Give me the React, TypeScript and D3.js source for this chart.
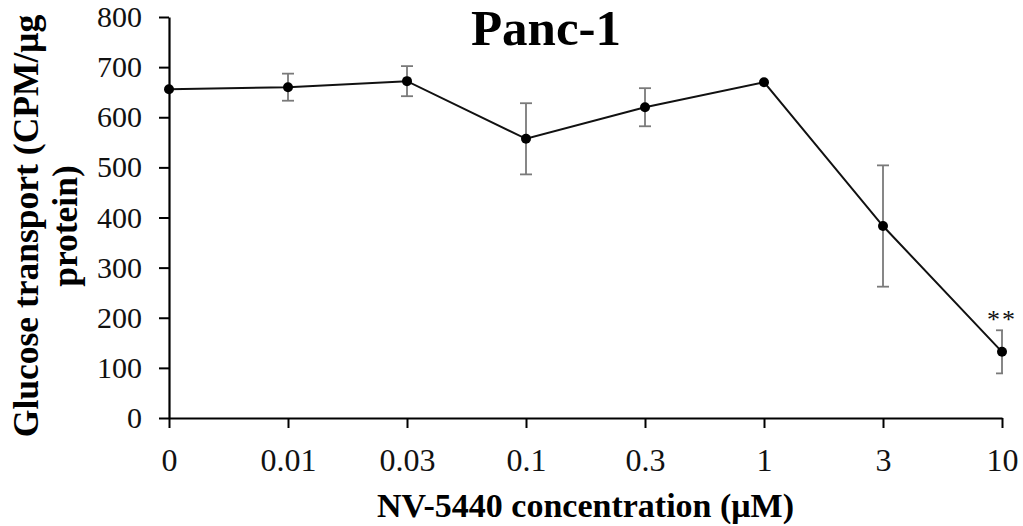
import React from 'react';
import * as d3 from 'd3';

const concentrations = ['0', '0.01', '0.03', '0.1', '0.3', '1', '3', '10'];
const transport = [656, 660, 672, 557, 620, 670, 383, 132];
const errors = [0, 27, 30, 71, 38, 0, 121, 43];
const yTicks = [0, 100, 200, 300, 400, 500, 600, 700, 800];
const marks = ['', '', '', '', '', '', '', '**'];

const useD3 = (renderChart: any, dependencies: any[]) => {
  const ref = React.useRef<SVGSVGElement>(null);
  React.useEffect(() => {
    renderChart(d3.select(ref.current));
  }, dependencies);
  return ref;
};

const font = '"Liberation Serif", "Times New Roman", serif';

const renderChart = (svg: any) => {
  svg.selectAll('*').remove();
  const left = 169;
  const right = 1002;
  const top = 17;
  const bottom = 418;

  const x = d3.scalePoint().domain(concentrations).range([left, right]);
  const y = d3.scaleLinear().domain([0, 800]).range([bottom, top]);

  const rows = concentrations.map((c, i) => ({ c, v: transport[i], e: errors[i], m: marks[i] }));

  svg.append('defs').append('clipPath').attr('id', 'plot-clip')
    .append('rect')
    .attr('x', left - 20).attr('y', 0)
    .attr('width', right - left + 21).attr('height', bottom + 10);

  // y axis
  const yAxis = svg.append('g')
    .attr('transform', `translate(${left},0)`)
    .call(d3.axisLeft(y).tickValues(yTicks).tickSize(10).tickPadding(17).tickSizeOuter(0));
  yAxis.select('.domain').attr('stroke', '#000').attr('stroke-width', 2.2);
  yAxis.selectAll('.tick line').attr('stroke', '#000').attr('stroke-width', 2);
  yAxis.selectAll('.tick text')
    .attr('font-family', font).attr('font-size', 30).attr('fill', '#111');

  // x axis
  const xAxis = svg.append('g')
    .attr('transform', `translate(0,${bottom})`)
    .call(d3.axisBottom(x).tickSize(10).tickPadding(20).tickSizeOuter(0));
  xAxis.select('.domain').attr('stroke', '#000').attr('stroke-width', 2.2);
  xAxis.selectAll('.tick line').attr('stroke', '#000').attr('stroke-width', 2);
  xAxis.selectAll('.tick text')
    .attr('font-family', font).attr('font-size', 32).attr('fill', '#111');

  const plot = svg.append('g').attr('clip-path', 'url(#plot-clip)');

  // error bars
  const eb = plot.selectAll('.err')
    .data(rows.filter(d => d.e > 0))
    .join('g')
    .attr('stroke', '#7a7a7a')
    .attr('stroke-width', 1.8);
  eb.append('line')
    .attr('x1', (d: any) => x(d.c)).attr('x2', (d: any) => x(d.c))
    .attr('y1', (d: any) => y(d.v + d.e)).attr('y2', (d: any) => y(d.v - d.e));
  eb.append('line')
    .attr('x1', (d: any) => x(d.c)! - 6).attr('x2', (d: any) => x(d.c)! + 6)
    .attr('y1', (d: any) => y(d.v + d.e)).attr('y2', (d: any) => y(d.v + d.e));
  eb.append('line')
    .attr('x1', (d: any) => x(d.c)! - 6).attr('x2', (d: any) => x(d.c)! + 6)
    .attr('y1', (d: any) => y(d.v - d.e)).attr('y2', (d: any) => y(d.v - d.e));

  // line + points
  const line = d3.line<any>().x(d => x(d.c)!).y(d => y(d.v));
  svg.append('path')
    .datum(rows)
    .attr('d', line)
    .attr('fill', 'none')
    .attr('stroke', '#111')
    .attr('stroke-width', 2);

  svg.selectAll('.pt')
    .data(rows)
    .join('circle')
    .attr('cx', (d: any) => x(d.c))
    .attr('cy', (d: any) => y(d.v))
    .attr('r', 5)
    .attr('fill', '#000');

  // significance marks
  svg.selectAll('.sig')
    .data(rows.filter(d => d.m))
    .join('text')
    .attr('x', (d: any) => x(d.c))
    .attr('y', (d: any) => y(d.v + d.e) - 2)
    .attr('text-anchor', 'middle')
    .attr('font-family', font)
    .attr('font-size', 26)
    .attr('letter-spacing', 2)
    .attr('fill', '#111')
    .text((d: any) => d.m);

  // title
  svg.append('text')
    .attr('x', 546).attr('y', 45)
    .attr('text-anchor', 'middle')
    .attr('font-family', font).attr('font-weight', 'bold').attr('font-size', 51)
    .attr('fill', '#000')
    .text('Panc-1');

  // axis titles
  svg.append('text')
    .attr('x', (left + right) / 2).attr('y', 517)
    .attr('text-anchor', 'middle')
    .attr('font-family', font).attr('font-weight', 'bold').attr('font-size', 34)
    .attr('fill', '#000')
    .text('NV-5440 concentration (μM)');

  const yt = svg.append('text')
    .attr('transform', 'translate(0,226) rotate(-90)')
    .attr('text-anchor', 'middle')
    .attr('font-family', font).attr('font-weight', 'bold').attr('font-size', 35.5)
    .attr('fill', '#000');
  yt.append('tspan').attr('x', 0).attr('y', 38).text('Glucose transport (CPM/μg');
  yt.append('tspan').attr('x', 0).attr('y', 77).text('protein)');
};

const App: React.FC = () => {
  const ref = useD3(renderChart, []);
  return (
    <svg
      ref={ref}
      width={1023}
      height={526}
      style={{ position: 'absolute', left: 0, top: 0, background: '#fff' }}
    />
  );
};

export default App;
